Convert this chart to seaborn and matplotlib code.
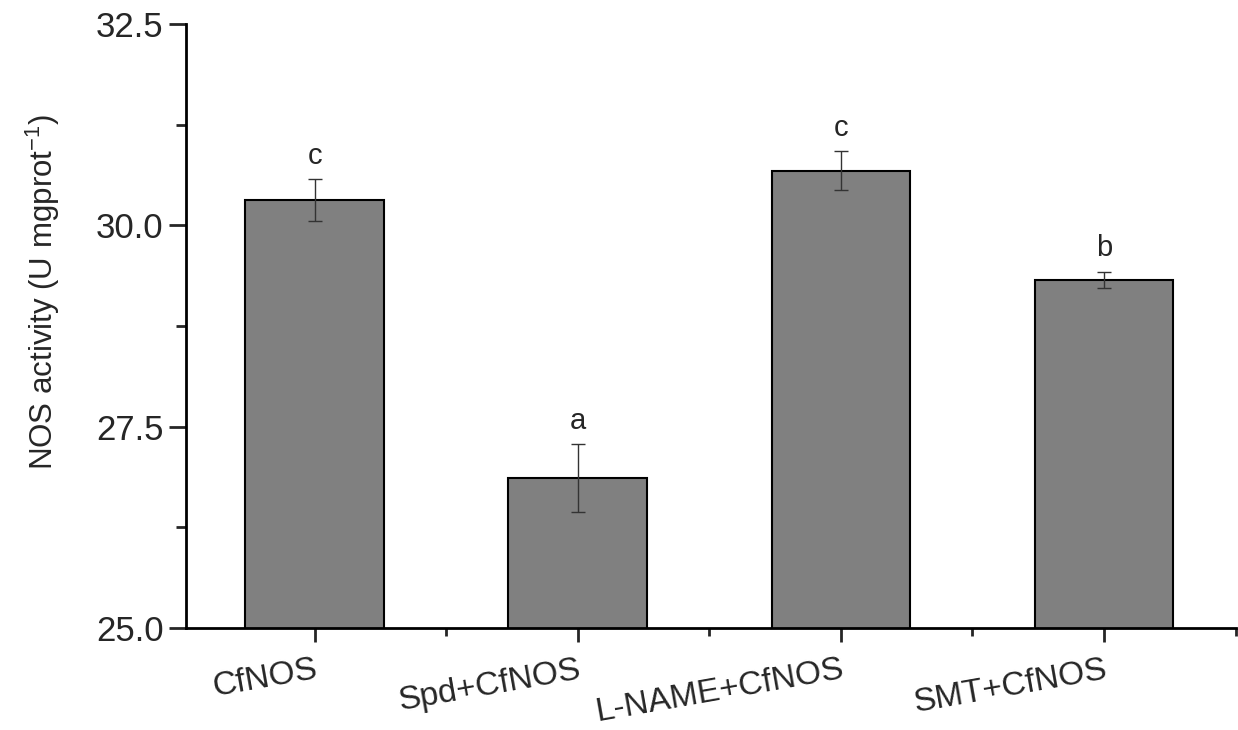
import numpy as np
import pandas as pd
import seaborn as sns
import matplotlib
matplotlib.use("Agg")
import matplotlib.pyplot as plt
from matplotlib.ticker import MultipleLocator, FixedLocator

# ------------------------------
# Data
# ------------------------------
groups = ["CfNOS", "Spd+CfNOS", "L-NAME+CfNOS", "SMT+CfNOS"]
means = [30.31, 26.86, 30.68, 29.32]
errors = [0.26, 0.42, 0.24, 0.10]
letters = ["c", "a", "c", "b"]

BAR_COLOR = "#808080"

sns.set_theme(style="ticks")
plt.rcParams["font.family"] = ["Liberation Sans", "DejaVu Sans"]
plt.rcParams["mathtext.fontset"] = "custom"
plt.rcParams["mathtext.rm"] = "Liberation Sans"
plt.rcParams["mathtext.default"] = "regular"

df = pd.DataFrame({"group": groups, "mean": means, "err": errors})

fig = plt.figure(figsize=(12.38, 7.30), dpi=100)
ax = fig.add_axes([0.150, 0.140, 0.848, 0.827])

sns.barplot(
    data=df,
    x="group",
    y="mean",
    color=BAR_COLOR,
    saturation=1,
    edgecolor="black",
    linewidth=1.5,
    width=0.527,
    errorbar=None,
    ax=ax
)

ax.errorbar(
    np.arange(len(groups)),
    df["mean"],
    yerr=df["err"],
    fmt="none",
    ecolor="#333333",
    elinewidth=1.0,
    capsize=5,
    capthick=1.0
)

# significance letters
for i, (m, e, lab) in enumerate(zip(means, errors, letters)):
    ax.text(i, m + e + 0.12, lab, ha="center", va="bottom", fontsize=21)

ax.set_ylim(25, 32.5)
ax.set_xlim(-0.49, 3.5)
ax.yaxis.set_major_locator(MultipleLocator(2.5))
ax.yaxis.set_minor_locator(MultipleLocator(1.25))
ax.yaxis.set_major_formatter(matplotlib.ticker.FormatStrFormatter("%.1f"))
ax.xaxis.set_minor_locator(FixedLocator([0.5, 1.5, 2.5, 3.5]))

ax.set_xlabel("")
ax.set_ylabel("NOS activity (U mgprot$^{-1}$)", fontsize=22.5)
ax.yaxis.set_label_coords(-0.118, 0.556)
ax.set_xticks(range(len(groups)))
ax.set_xticklabels(groups, rotation=10, ha="right", rotation_mode="anchor", fontsize=24)

ax.tick_params(axis="y", which="major", direction="out", length=12, width=2, labelsize=25, pad=4)
ax.tick_params(axis="y", which="minor", direction="out", length=7, width=2)
ax.tick_params(axis="x", which="major", direction="out", length=10, width=2, pad=9)
ax.tick_params(axis="x", which="minor", direction="out", length=6, width=2)

sns.despine(ax=ax, top=True, right=True)
for side in ["left", "bottom"]:
    ax.spines[side].set_linewidth(2)
    ax.spines[side].set_color("black")

fig.savefig("out.png", dpi=100)
plt.close(fig)
